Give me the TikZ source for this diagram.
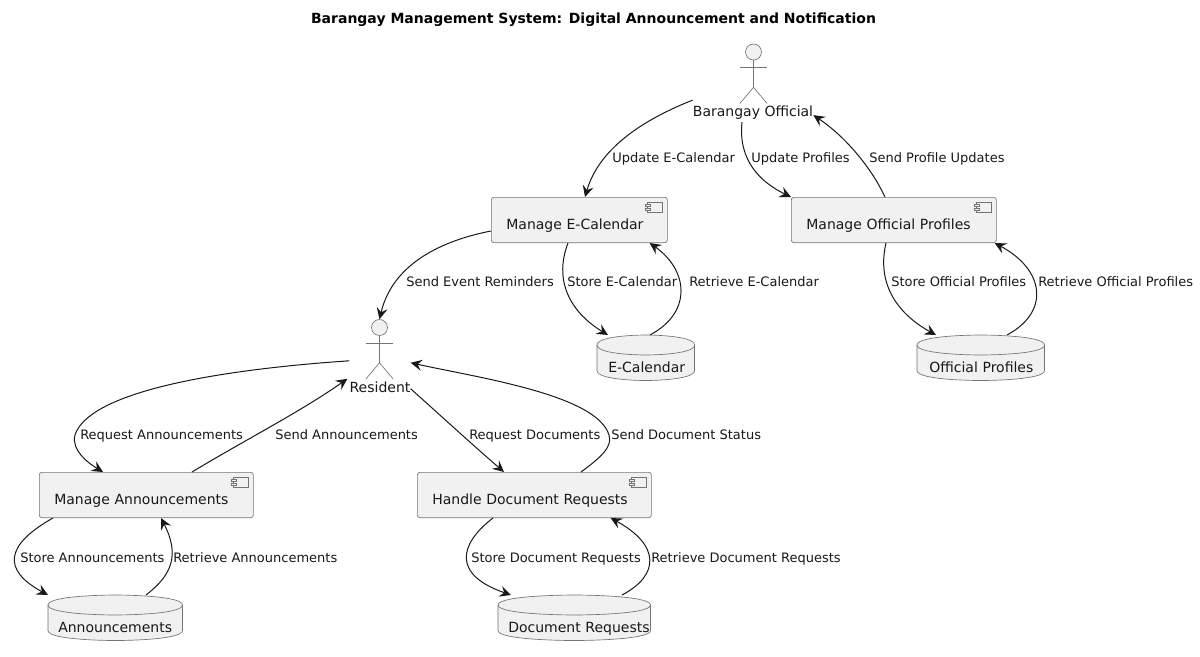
\documentclass[tikz,border=0pt]{standalone}
\usepackage{fontspec}
\setmainfont{DejaVu Sans}
\usetikzlibrary{arrows.meta,calc}
\pgfdeclarelayer{drums}
\pgfsetlayers{drums,main}
\definecolor{umlfill}{HTML}{F1F1F1}
\definecolor{umlline}{HTML}{181818}
\tikzset{
  outline/.style={draw=umlline!60,line width=.5pt,fill=umlfill},
  comp/.style={outline,rounded corners=1.9pt,inner xsep=0pt,inner ysep=0pt,align=left,
    font=\fontsize{10.5pt}{12pt}\selectfont,text=umlline,text height=24pt,text depth=10pt,
    execute at begin node=\hspace*{11.25pt}},
  dbtext/.style={inner sep=0pt,align=left,font=\fontsize{10.5pt}{12pt}\selectfont,text=umlline,
    text height=27.75pt,text depth=6pt},
  actorname/.style={inner sep=0pt,anchor=base,font=\fontsize{10.5pt}{12pt}\selectfont,text=umlline},
  head/.style={outline,circle,minimum size=12pt,inner sep=0pt},
  limb/.style={draw=umlline!60,line width=.5pt},
  edge/.style={draw=umlline,line width=.75pt,-{Stealth[length=8.5pt,width=8.25pt,inset=3.2pt]}},
  lab/.style={inner sep=0pt,anchor=base west,font=\fontsize{9.75pt}{12pt}\selectfont,text=umlline},
}
% component icon in the upper right corner of a component node
\newcommand{\compicon}[1]{%
  \draw[outline] ($(#1.north east)+(-20.5,5)$) rectangle ($(#1.north east)+(-5,15)$);
  \draw[outline] ($(#1.north east)+(-22,7)$) rectangle ($(#1.north east)+(-17.5,9)$);
  \draw[outline] ($(#1.north east)+(-22,11)$) rectangle ($(#1.north east)+(-17.5,13)$);
}
% database drum behind a named node
\newcommand{\drum}[1]{%
  \draw[outline] ($(#1.north west)+(0,10)$) .. controls (#1.north west) and (#1.north) .. (#1.north)
    .. controls (#1.north) and (#1.north east) .. ($(#1.north east)+(0,10)$)
    -- ($(#1.south east)+(0,-10)$) .. controls (#1.south east) and (#1.south) .. (#1.south)
    .. controls (#1.south) and (#1.south west) .. ($(#1.south west)+(0,-10)$) -- cycle;
  \draw[limb] ($(#1.north west)+(0,10)$) .. controls ($(#1.north west)+(0,20)$) and ($(#1.north)+(0,20)$) .. ($(#1.north)+(0,20)$)
    .. controls ($(#1.north)+(0,20)$) and ($(#1.north east)+(0,20)$) .. ($(#1.north east)+(0,10)$);
}
% stick figure below a head node
\newcommand{\stick}[1]{%
  \draw[limb] (#1.south) -- ++(0,27) coordinate (#1hip) ;
  \draw[limb] ($(#1.south)+(-13.5,7)$) -- ($(#1.south)+(13.5,7)$);
  \draw[limb] ($(#1hip)+(-13.5,16)$) -- (#1hip) -- ($(#1hip)+(13.5,16)$);
}
\begin{document}
\begin{tikzpicture}[x=.75pt,y=-.75pt]
\useasboundingbox (0,0) rectangle (1200,657);
\node[inner sep=0pt,anchor=base,font=\bfseries\fontsize{10.5pt}{12pt}\selectfont,text=black] (title) at (593.5,23) {Barangay Management System: Digital Announcement and Notification};

% actors
\node[head] (offhead) at (753.5,52) {};
\stick{offhead}
\node[actorname] (official) at (753,116) {Barangay Official};
\node[head] (reshead) at (379.5,327.5) {};
\stick{reshead}
\node[actorname] (resident) at (380,392) {Resident};

% components
\node[comp,text width=132pt,anchor=north west] (mcal) at (491,197) {Manage E-Calendar};
\node[comp,text width=153.75pt,anchor=north west] (mprof) at (791,197) {Manage Official Profiles};
\node[comp,text width=160.5pt,anchor=north west] (mann) at (39,472) {Manage Announcements};
\node[comp,text width=175.5pt,anchor=north west] (mdoc) at (417,472) {Handle Document Requests};
\foreach \n in {mcal,mprof,mann,mdoc} {\compicon{\n}}

% databases
\node[dbtext,text width=72.75pt,anchor=north west] (dcal) at (597,335) {\hspace*{8.25pt}E-Calendar};
\node[dbtext,text width=95.25pt,anchor=north west] (dprof) at (917,335) {\hspace*{9pt}Official Profiles};
\node[dbtext,text width=100.5pt,anchor=north west] (dann) at (48,595) {\hspace*{7.5pt}Announcements};
\node[dbtext,text width=114pt,anchor=north west] (ddoc) at (498,595) {\hspace*{7.5pt}Document Requests};
\begin{pgfonlayer}{drums}
\foreach \n in {dcal,dprof,dann,ddoc} {\drum{\n}}
\end{pgfonlayer}

% connectors
\draw[edge] ($(official.west)+(0,-12)$) .. controls (650,117) and (600,145) .. ($(mcal.north west)+(94,0)$);
\draw[edge] ($(official.south)+(-11,3)$) .. controls (738,160) and (760,182) .. (mprof.north west);
\draw[edge] ($(mprof.north west)+(94,0)$) .. controls (870,165) and (843,135) .. ($(official.east)+(0,3)$);
\draw[edge] ($(mcal.west)+(0,11)$) .. controls (445,240) and (393,262) .. (reshead.north);
\draw[edge] ($(mcal.south west)+(77,0)$) .. controls (552,285) and (575,315) .. ($(dcal.north west)+(11,0)$);
\draw[edge] ($(dcal.north west)+(53,0)$) .. controls (693,312) and (688,270) .. ($(mcal.south east)+(-18,0)$);
\draw[edge] ($(mprof.south west)+(95,0)$) .. controls (875,290) and (905,318) .. ($(dprof.north west)+(19,0)$);
\draw[edge] ($(dprof.north west)+(90,0)$) .. controls (1050,312) and (1045,270) .. ($(mprof.south east)+(-2,0)$);
\draw[edge] ($(resident.west)+(0,-26)$) .. controls (200,371) and (88,395) .. (75,435) .. controls (71,450) and (88,463) .. ($(mann.north west)+(64,0)$);
\draw[edge] ($(mann.north west)+(153,0)$) .. controls (245,440) and (300,412) .. ($(resident.west)+(-2,-8)$);
\draw[edge] ($(resident.east)+(0,2)$) .. controls (440,415) and (475,447) .. ($(mdoc.north west)+(87,0)$);
\draw[edge] ($(mdoc.north west)+(164,0)$) .. controls (600,458) and (613,447) .. (609,435) .. controls (597,395) and (480,378) .. ($(resident.east)+(0,-24)$);
\draw[edge] ($(mann.south west)+(14,0)$) .. controls (5,545) and (2,570) .. (dann.north west);
\draw[edge] ($(dann.north west)+(98,0)$) .. controls (172,575) and (180,555) .. ($(mann.south west)+(122,0)$);
\draw[edge] ($(mdoc.south west)+(76,0)$) .. controls (458,545) and (453,575) .. ($(ddoc.north west)+(13,0)$);
\draw[edge] ($(ddoc.north west)+(124,0)$) .. controls (660,575) and (660,545) .. ($(mdoc.south east)+(-41,0)$);

% connector labels
\node[lab] (l1) at (612,162) {Update E-Calendar};
\node[lab] (l2) at (751,162) {Update Profiles};
\node[lab] (l3) at (869,162) {Send Profile Updates};
\node[lab] (l4) at (406,286) {Send Event Reminders};
\node[lab] (l5) at (567,286) {Store E-Calendar};
\node[lab] (l6) at (689,286) {Retrieve E-Calendar};
\node[lab] (l7) at (891,286) {Store Official Profiles};
\node[lab] (l8) at (1038,286) {Retrieve Official Profiles};
\node[lab] (l9) at (80,439) {Request Announcements};
\node[lab] (l10) at (275,439) {Send Announcements};
\node[lab] (l11) at (469,439) {Request Documents};
\node[lab] (l12) at (611,439) {Send Document Status};
\node[lab] (l13) at (20,562) {Store Announcements};
\node[lab] (l14) at (173,562) {Retrieve Announcements};
\node[lab] (l15) at (471,562) {Store Document Requests};
\node[lab] (l16) at (651,562) {Retrieve Document Requests};
\end{tikzpicture}
\end{document}
